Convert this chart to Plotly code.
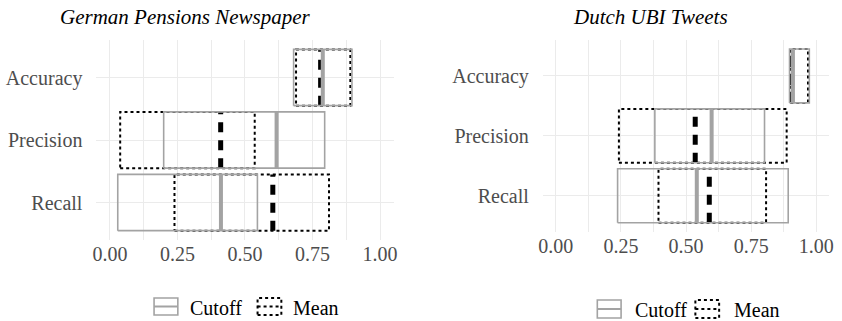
import plotly.graph_objects as go

W, H = 842, 321

metrics = ["Accuracy", "Precision", "Recall"]
metric_pos = [3, 2, 1]
x_ticks = [0.0, 0.25, 0.5, 0.75, 1.0]
x_tick_labels = ["0.00", "0.25", "0.50", "0.75", "1.00"]

panel_titles = ["German Pensions Newspaper", "Dutch UBI Tweets"]

# German Pensions Newspaper: [low, middle, high] per metric
de_cutoff_low = [0.680, 0.199, 0.029]
de_cutoff_mid = [0.788, 0.617, 0.411]
de_cutoff_high = [0.896, 0.795, 0.546]
de_mean_low = [0.689, 0.038, 0.239]
de_mean_mid = [0.780, 0.410, 0.603]
de_mean_high = [0.890, 0.536, 0.811]

# Dutch UBI Tweets
nl_cutoff_low = [0.897, 0.380, 0.237]
nl_cutoff_mid = [0.910, 0.598, 0.541]
nl_cutoff_high = [0.973, 0.801, 0.892]
nl_mean_low = [0.900, 0.242, 0.394]
nl_mean_mid = [0.905, 0.535, 0.589]
nl_mean_high = [0.968, 0.886, 0.807]

series_names = ["Cutoff", "Mean"]

GRAY = "#A3A3A3"
GRID = "#EBEBEB"
FONT = "Liberation Serif"
HALF = 0.45

def px_x(p):
    return p / W

def px_y(p):
    return 1 - p / H

fig = go.Figure()

def add_boxes(lows, mids, highs, xa, ya, kind):
    for lo, mid, hi, yp in zip(lows, mids, highs, metric_pos):
        if kind == "Mean":
            edge = dict(color="black", width=2, dash="3px,3px")
            med = dict(color="black", width=5, dash="10px,8px")
        else:
            edge = dict(color=GRAY, width=1.6)
            med = dict(color=GRAY, width=4)
        fig.add_trace(go.Scatter(
            x=[lo, hi, hi, lo, lo],
            y=[yp - HALF, yp - HALF, yp + HALF, yp + HALF, yp - HALF],
            mode="lines", line=edge, xaxis=xa, yaxis=ya,
            showlegend=False, hoverinfo="skip"))
        fig.add_trace(go.Scatter(
            x=[mid, mid], y=[yp - HALF, yp + HALF],
            mode="lines", line=med, xaxis=xa, yaxis=ya,
            showlegend=False, hoverinfo="skip"))

add_boxes(de_mean_low, de_mean_mid, de_mean_high, "x", "y", "Mean")
add_boxes(de_cutoff_low, de_cutoff_mid, de_cutoff_high, "x", "y", "Cutoff")
add_boxes(nl_mean_low, nl_mean_mid, nl_mean_high, "x2", "y2", "Mean")
add_boxes(nl_cutoff_low, nl_cutoff_mid, nl_cutoff_high, "x2", "y2", "Cutoff")

xcommon = dict(range=[-0.05, 1.05], tickvals=x_ticks, ticktext=x_tick_labels,
               showgrid=True, gridcolor=GRID, gridwidth=1.2, zeroline=False,
               ticks="", showline=False,
               minor=dict(dtick=0.125, tick0=0, showgrid=True, gridcolor=GRID, gridwidth=1.2),
               tickfont=dict(family=FONT, size=20, color="#4D4D4D"),
               fixedrange=True)
ycommon = dict(range=[0.4, 3.6], tickvals=metric_pos, ticktext=metrics,
               showgrid=True, gridcolor=GRID, gridwidth=1.2, zeroline=False,
               ticks="", showline=False, ticklabelstandoff=13,
               tickfont=dict(family=FONT, size=20, color="#4D4D4D"),
               fixedrange=True)

fig.update_layout(
    width=W, height=H,
    margin=dict(l=0, r=0, t=0, b=0),
    paper_bgcolor="white", plot_bgcolor="white",
    showlegend=False,
    xaxis=dict(domain=[px_x(93.3), px_x(393.3)], anchor="y", **xcommon),
    yaxis=dict(domain=[px_y(240), px_y(40)], anchor="x", **ycommon),
    xaxis2=dict(domain=[px_x(544), px_x(833.3)], anchor="y2", **xcommon),
    yaxis2=dict(domain=[px_y(231.7), px_y(40)], anchor="x2", **ycommon),
)

# Titles
for title, cx in zip(panel_titles, [182.5, 652.5]):
    fig.add_annotation(text="<i>" + title + "</i>", x=px_x(cx), y=px_y(17),
                       xref="paper", yref="paper",
                       showarrow=False, xanchor="center", yanchor="middle",
                       font=dict(family=FONT, size=21, color="black"))

# Custom legends
def legend(icon1_x, icon2_x, text1_x, text2_x, y0, y1):
    ym = (y0 + y1) / 2
    fig.add_shape(type="rect", xref="paper", yref="paper",
                  x0=px_x(icon1_x[0]), x1=px_x(icon1_x[1]), y0=px_y(y1), y1=px_y(y0),
                  line=dict(color=GRAY, width=1.6))
    fig.add_shape(type="line", xref="paper", yref="paper",
                  x0=px_x(icon1_x[0]), x1=px_x(icon1_x[1]), y0=px_y(ym), y1=px_y(ym),
                  line=dict(color=GRAY, width=2))
    fig.add_shape(type="rect", xref="paper", yref="paper",
                  x0=px_x(icon2_x[0]), x1=px_x(icon2_x[1]), y0=px_y(y1), y1=px_y(y0),
                  line=dict(color="black", width=2, dash="3px,3px"))
    fig.add_shape(type="line", xref="paper", yref="paper",
                  x0=px_x(icon2_x[0]), x1=px_x(icon2_x[1]), y0=px_y(ym), y1=px_y(ym),
                  line=dict(color="black", width=2, dash="3px,3px"))
    for name, tx in zip(series_names, [text1_x, text2_x]):
        fig.add_annotation(text=name, x=px_x(tx), y=px_y(ym + 1), xref="paper", yref="paper",
                           showarrow=False, xanchor="left", yanchor="middle",
                           font=dict(family=FONT, size=20, color="black"))

legend((151.5, 175.5), (256, 280), 186, 290, 298, 315)
legend((599, 623), (698, 722), 635, 735, 300, 318)

fig.write_html("out.html", config={"displayModeBar": False},
               post_script="document.body.style.margin='0';")
